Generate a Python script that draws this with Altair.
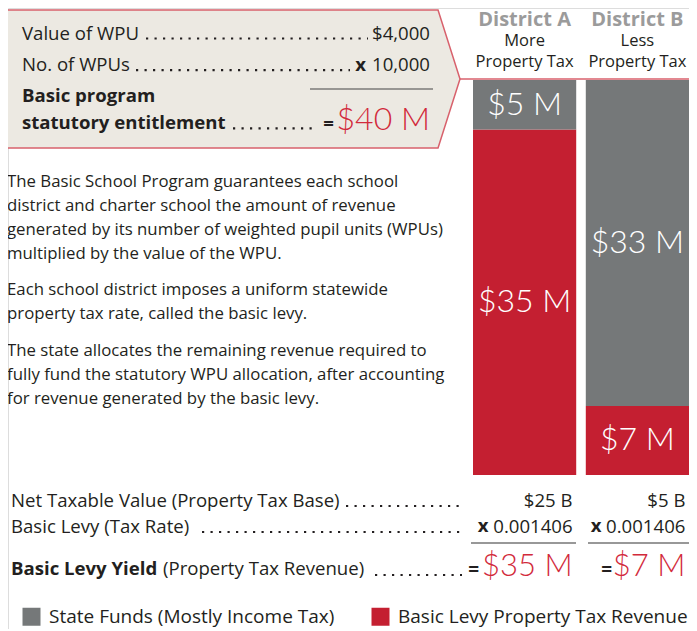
import altair as alt
import pandas as pd

# ---------------- data ----------------
districts = ["District A", "District B"]
district_note1 = ["More", "Less"]
district_note2 = ["Property Tax", "Property Tax"]
segments = ["State Funds (Mostly Income Tax)", "Basic Levy Property Tax Revenue"]
state_funds_m = [5, 33]
levy_m = [35, 7]
net_taxable_b = [25, 5]
basic_levy_rate = "0.001406"
wpu_value = "$4,000"
wpu_count = "10,000"
entitlement = "$40 M"
para1 = ["The Basic School Program guarantees each school",
         "district and charter school the amount of revenue",
         "generated by its number of weighted pupil units (WPUs)",
         "multiplied by the value of the WPU."]
para2 = ["Each school district imposes a uniform statewide",
         "property tax rate, called the basic levy."]
para3 = ["The state allocates the remaining revenue required to",
         "fully fund the statutory WPU allocation, after accounting",
         "for revenue generated by the basic levy."]

# ---------------- styles ----------------
FONT = "Open Sans"
NUMFONT = "Lato"
DARK = "#231F20"
GRAY = "#757879"
RED = "#C41F31"
RED_TXT = "#D22A3B"
HEAD_GRAY = "#9B9B9B"
BOX_FILL = "#ECE9E2"
BOX_STROKE = "#D8616C"
BOX_FS = 18.6
TAB_FS = 18.6
PARA_FS = 16.8

one = pd.DataFrame({"k": [0]})


def P(v):
    # page pixel -> chart pixel (page has 8px margin)
    return v - 8


def txt(s, x, y, size=17, weight="normal", color=DARK, align="left", baseline="middle", font=FONT, **kw):
    return alt.Chart(one).mark_text(
        text=s, fontSize=size, fontWeight=weight, color=color, align=align,
        baseline=baseline, font=font, **kw
    ).encode(x=alt.value(P(x)), y=alt.value(P(y)))


def rule(x1, x2, y, color=DARK, width=1.0, dash=None):
    kw = {}
    if dash is not None:
        kw["strokeDash"] = dash
    return alt.Chart(one).mark_rule(color=color, strokeWidth=width, **kw).encode(
        x=alt.value(P(x1)), x2=alt.value(P(x2)), y=alt.value(P(y))
    )


def dots(x1, x2, y):
    return rule(x1, x2, y, color=DARK, width=2.2, dash=[2.2, 6.3])


# ---------------- bars ----------------
bar_df = pd.DataFrame({
    "district": districts + districts,
    "segment": [segments[1]] * 2 + [segments[0]] * 2,
    "value": levy_m + state_funds_m,
    "order": [0, 0, 1, 1],
})

xscale = alt.Scale(domain=districts, range=[P(473), P(689)], paddingInner=0.085, paddingOuter=0)
yscale = alt.Scale(domain=[0, 40], range=[P(475), P(80)], nice=False, zero=True)

base = alt.Chart(bar_df).transform_stack(
    stack="value", as_=["v0", "v1"], groupby=["district"], sort=[alt.SortField("order")]
).transform_calculate(
    mid="(datum.v0 + datum.v1) / 2", label="'$' + datum.value + ' M'"
)

bars = base.mark_bar().encode(
    x=alt.X("district:N", scale=xscale, axis=None),
    y=alt.Y("v0:Q", scale=yscale, axis=None),
    y2="v1:Q",
    color=alt.Color(
        "segment:N",
        scale=alt.Scale(domain=segments, range=[GRAY, RED]),
        legend=alt.Legend(
            title=None, orient="none", legendX=P(22), legendY=P(607), direction="horizontal",
            symbolType="square", symbolSize=324, symbolStrokeWidth=0, symbolOpacity=1,
            labelFont=FONT, labelFontSize=19, labelColor=DARK, columnPadding=36,
            labelOffset=8, padding=0, labelLimit=400,
        ),
    ),
)

bar_labels = base.mark_text(color="white", fontSize=32, font=NUMFONT, fontWeight=300).encode(
    x=alt.X("district:N", scale=xscale, axis=None),
    y=alt.Y("mid:Q", scale=yscale, axis=None),
    text="label:N",
)

# ---------------- headers ----------------
head_df = pd.DataFrame({"district": districts, "n1": district_note1, "n2": district_note2})
hx = alt.X("district:N", scale=xscale, axis=None)
head1 = alt.Chart(head_df).mark_text(font=FONT, fontSize=20, fontWeight="bold", color=HEAD_GRAY).encode(
    x=hx, y=alt.value(P(19.5)), text="district:N")
head2 = alt.Chart(head_df).mark_text(font=FONT, fontSize=16.5, color=DARK).encode(
    x=hx, y=alt.value(P(40.5)), text="n1:N")
head3 = alt.Chart(head_df).mark_text(font=FONT, fontSize=16.5, color=DARK).encode(
    x=hx, y=alt.value(P(62)), text="n2:N")

# ---------------- bottom table values ----------------
tab_df = pd.DataFrame({
    "district": districts,
    "base": [f"${v} B" for v in net_taxable_b],
    "rate": [basic_levy_rate] * 2,
    "yield": [f"${v} M" for v in levy_m],
})
tab_base = alt.Chart(tab_df).mark_text(font=FONT, fontSize=TAB_FS, color=DARK, align="right", dx=48).encode(
    x=hx, y=alt.value(P(501)), text="base:N")
tab_rate = alt.Chart(tab_df).mark_text(font=FONT, fontSize=TAB_FS, color=DARK, align="right", dx=48).encode(
    x=hx, y=alt.value(P(527)), text="rate:N")
tab_x = alt.Chart(tab_df).mark_text(font=FONT, fontSize=TAB_FS, fontWeight="bold", color=DARK, align="right", dx=-36, text="x").encode(
    x=hx, y=alt.value(P(526)))
tab_yield = alt.Chart(tab_df).mark_text(font=NUMFONT, fontSize=31, fontWeight=300, color=RED_TXT, align="right", dx=48).encode(
    x=hx, y=alt.value(P(567)), text="yield:N")

# ---------------- callout box ----------------
box_path = "M-1,-0.3046 L0.903,-0.3046 L1,0 L0.903,0.3046 L-1,0.3046 Z"
box = alt.Chart(one).mark_point(
    shape=box_path, filled=True, fill=BOX_FILL, fillOpacity=1, stroke=BOX_STROKE,
    strokeWidth=1.5, opacity=1, size=453 ** 2,
).encode(x=alt.value(P(233.5)), y=alt.value(P(79)))
pointer = rule(460, 689, 79, color=BOX_STROKE, width=1.5)

layers = [
    box, pointer,
    txt("Value of WPU", 22, 33.7, size=BOX_FS),
    dots(146, 368, 38.5),
    txt(wpu_value, 430, 33.7, size=BOX_FS, align="right"),
    txt("No. of WPUs", 22, 65.4, size=BOX_FS),
    dots(136, 350, 70.2),
    txt("x", 366, 65.4, size=BOX_FS, weight="bold", align="right"),
    txt(wpu_count, 430, 65.4, size=BOX_FS, align="right"),
    rule(310, 433, 89, color="#444444", width=1.2),
    txt("Basic program", 22, 96, size=BOX_FS, weight="bold"),
    txt("statutory entitlement", 22, 123.4, size=BOX_FS, weight="bold"),
    dots(233, 314, 128.3),
    txt("=", 334, 124, size=BOX_FS, weight="bold", align="right"),
    txt(entitlement, 430, 120.4, size=32, weight=300, color=RED_TXT, align="right", font=NUMFONT),
    txt(para1, 7, 187, size=PARA_FS, baseline="alphabetic", lineHeight=24),
    txt(para2, 7, 295, size=PARA_FS, baseline="alphabetic", lineHeight=24),
    txt(para3, 7, 356, size=PARA_FS, baseline="alphabetic", lineHeight=24),
    bars, bar_labels, head1, head2, head3,
    txt("Net Taxable Value (Property Tax Base)", 11, 501, size=TAB_FS),
    dots(346, 465, 506),
    txt("Basic Levy (Tax Rate)", 11, 527, size=TAB_FS),
    dots(202, 465, 532),
    tab_base, tab_rate, tab_x,
    rule(471, 576, 543, color="#333333", width=1.2),
    rule(588, 689, 543, color="#333333", width=1.2),
    txt("Basic Levy Yield", 11, 569, size=TAB_FS, weight="bold"),
    txt("(Property Tax Revenue)", 163, 569, size=TAB_FS),
    dots(375, 462, 575),
    txt("=", 479, 570, size=19, weight="bold", align="right"),
    txt("=", 612, 570, size=19, weight="bold", align="right"),
    tab_yield,
]

chart = alt.layer(*layers).properties(
    width=681, height=621, padding=0,
    autosize=alt.AutoSizeParams(type="none"),
).configure_view(strokeWidth=0).configure(background="white")

chart.save("out.html", embed_options={"renderer": "svg", "actions": False})
